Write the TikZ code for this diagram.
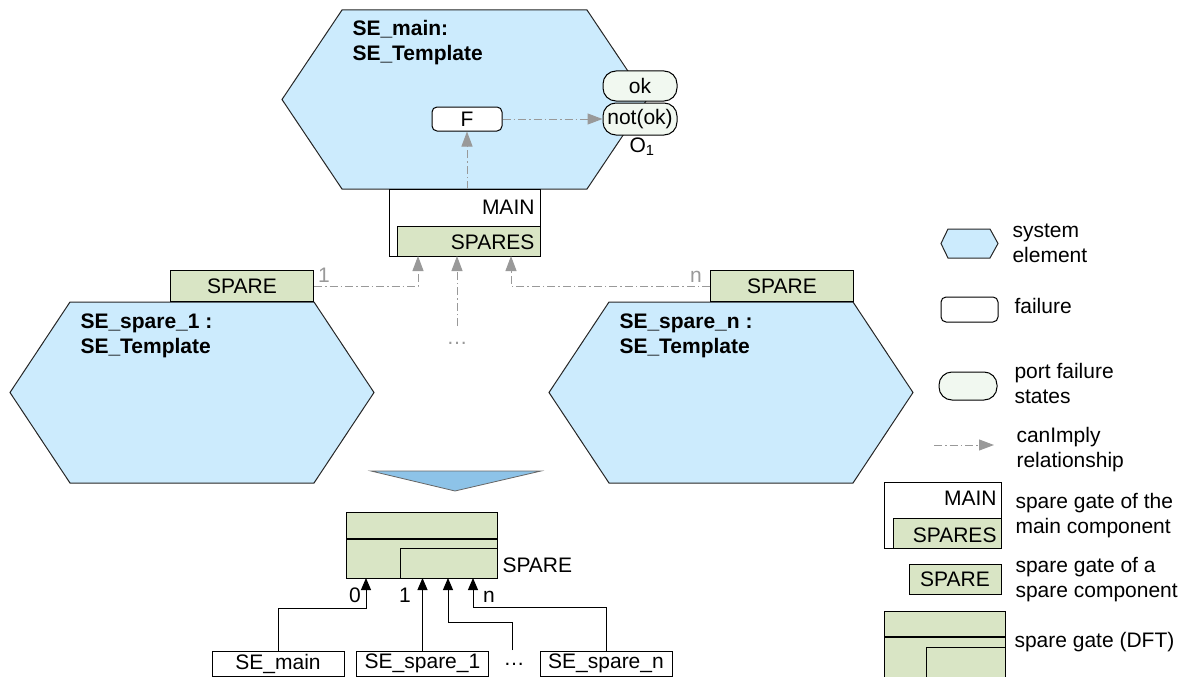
\documentclass[tikz,border=0pt]{standalone}
\usepackage{fontspec}
\setmainfont{Liberation Sans}
\usetikzlibrary{arrows.meta}
\definecolor{seblue}{HTML}{CCEBFD}
\definecolor{gategreen}{HTML}{D9E5C5}
\definecolor{portgreen}{HTML}{F1F8F0}
\definecolor{arrowblue}{HTML}{8DC3E8}
\definecolor{implygray}{HTML}{999999}
\begin{document}
\begin{tikzpicture}[x=1pt,y=-1pt,line width=1pt,
  font=\fontsize{21}{25}\selectfont,
  hexa/.style={draw=black!85,fill=seblue,line join=miter},
  sename/.style={font=\fontsize{21}{25}\selectfont\bfseries,align=left,anchor=north west,inner sep=0pt},
  failbox/.style={draw,fill=white,rounded corners=5pt,minimum width=70pt,minimum height=24pt,inner sep=0pt},
  portbox/.style={draw,fill=portgreen,rounded corners=13pt,minimum width=74pt,minimum height=30pt,inner sep=0pt},
  gatebox/.style={draw,fill=gategreen,inner sep=0pt},
  elembox/.style={draw,fill=white,minimum width=132pt,minimum height=25pt,inner sep=0pt},
  implies/.style={implygray,dash pattern=on 8pt off 3pt on 1.5pt off 3pt,-{Triangle[length=15pt,width=11pt]}},
  feeds/.style={black,-{Triangle[length=12pt,width=10pt]}},
  plain/.style={inner sep=0pt}]
  \useasboundingbox (0,0) rectangle (1189,677);

  % system elements
  \draw[hexa] (342,10) -- (587,10) -- (647,99.5) -- (587,189) -- (342,189) -- (282,99.5) -- cycle;
  \draw[hexa] (70,302) -- (314,302) -- (374,392.5) -- (314,483) -- (70,483) -- (10,392.5) -- cycle;
  \draw[hexa] (609,302) -- (853,302) -- (913,392.5) -- (853,483) -- (609,483) -- (549,392.5) -- cycle;
  \node[sename] (mainname) at (352,20) {SE\_main:\\SE\_Template};
  \node[sename] (spare1name) at (80,313) {SE\_spare\_1 :\\SE\_Template};
  \node[sename] (sparenname) at (619,313) {SE\_spare\_n :\\SE\_Template};

  % failure and port states
  \node[failbox] (F) at (467,119) {F};
  \node[portbox] (ok) at (640,86) {ok};
  \node[portbox,minimum height=32pt] (notok) at (640,119) {not(ok)};
  \node[plain,anchor=base] (o1) at (642,152) {O\textsubscript{1}};

  % spare gate of the main component
  \node[draw,fill=white,minimum width=151pt,minimum height=67pt,inner sep=0pt,anchor=north west] (maingate) at (389,189) {};
  \node[gatebox,minimum width=143pt,minimum height=30pt,anchor=south east] (spares) at (maingate.south east) {};
  \node[plain,anchor=base east] (mainlbl) at (535,214) {MAIN};
  \node[plain,anchor=base east] (spareslbl) at (535,249) {SPARES};

  % spare gates of the spare components
  \node[gatebox,minimum width=143pt,minimum height=31pt,anchor=south east] (spare1) at (314,302) {SPARE};
  \node[gatebox,minimum width=143pt,minimum height=31pt,anchor=south west] (sparen) at (710,302) {SPARE};

  % canImply
  \coordinate (in1) at (418,256);
  \coordinate (in2) at (457,256);
  \coordinate (inn) at (511,256);
  \coordinate (dotsup) at (457,326);
  \draw[implies] (F.south |- maingate.north) -- (F.south);
  \draw[implies] (F.east) -- (notok.west);
  \draw[implies] (spare1.east) -| (in1);
  \draw[implies] (dotsup) -- (in2);
  \draw[implies] (sparen.west) -| (inn);
  \node[implygray,plain,anchor=base] (lbl1) at (324,282) {1};
  \node[implygray,plain,anchor=base] (lbln) at (696,282) {n};
  \node[implygray,plain] (dotsmid) at (457,343) {\ldots};

  % transformation
  \draw[draw=black!60,fill=arrowblue,line width=0.8pt] (371,471) -- (541,471) -- (455,491) -- cycle;

  % spare gate (DFT)
  \node[gatebox,minimum width=151pt,minimum height=66pt,anchor=north west] (dftgate) at (346,512) {};
  \draw[line width=2pt] (346,538.5) -- (497,538.5);
  \draw (400,578) -- (400,548) -- (497,548);
  \node[plain,anchor=base west] (dftlbl) at (502,572) {SPARE};

  \node[elembox] (semain) at (278,663.5) {SE\_main};
  \node[elembox] (sesp1) at (422.5,663.5) {SE\_spare\_1};
  \node[plain] (bdots) at (514,664) {\ldots};
  \node[elembox] (sespn) at (606,663.5) {SE\_spare\_n};
  \coordinate (g0) at (366,578);
  \coordinate (g1) at (422.5,578);
  \coordinate (g2) at (448,578);
  \coordinate (gn) at (473,578);
  \coordinate (dotstop) at (512,650);
  \draw[feeds] (semain.north) |- (366,608) -- (g0);
  \draw[feeds] (sesp1.north) -- (g1);
  \draw[feeds] (dotstop) |- (448,622) -- (g2);
  \draw[feeds] (sespn.north) |- (473,607) -- (gn);
  \node[plain,anchor=base] (lbl0g) at (355,602) {0};
  \node[plain,anchor=base] (lbl1g) at (405,602) {1};
  \node[plain,anchor=base] (lblng) at (489,602) {n};

  % legend
  \draw[hexa] (948,229) -- (990,229) -- (998,243.5) -- (990,258) -- (948,258) -- (941,243.5) -- cycle;
  \node[plain,anchor=base west,align=left] (lgsys) at (1012,262) {system\\element};
  \node[failbox,minimum width=57pt,minimum height=25pt] (lgfail) at (969.5,309.5) {};
  \node[plain,anchor=base west] (lgfailt) at (1014,313) {failure};
  \node[portbox,minimum width=58pt,minimum height=28pt] (lgport) at (968,386) {};
  \node[plain,anchor=base west,align=left] (lgportt) at (1014,403) {port failure\\states};
  \coordinate (lgimpa) at (934,445);
  \coordinate (lgimpb) at (994,445);
  \draw[implies] (lgimpa) -- (lgimpb);
  \node[plain,anchor=base west,align=left] (lgimpt) at (1016,467) {canImply\\relationship};
  \node[draw,fill=white,minimum width=117pt,minimum height=66pt,inner sep=0pt,anchor=north west] (lgmain) at (884,482) {};
  \node[gatebox,minimum width=108pt,minimum height=30pt,anchor=south east] (lgspares) at (lgmain.south east) {};
  \node[plain,anchor=base east] (lgmainl) at (997,505) {MAIN};
  \node[plain,anchor=base east] (lgsparesl) at (997,542) {SPARES};
  \node[plain,anchor=base west,align=left] (lgmaint) at (1015,533) {spare gate of the\\main component};
  \node[gatebox,minimum width=92pt,minimum height=30pt] (lgspare) at (955,579) {SPARE};
  \node[plain,anchor=base west,align=left] (lgsparet) at (1015,597) {spare gate of a\\spare component};
  \node[gatebox,minimum width=121pt,minimum height=90pt,anchor=north west] (lgdft) at (884,611) {};
  \draw[line width=2pt] (884,637) -- (1005,637);
  \draw (926,701) -- (926,647) -- (1005,647);
  \node[plain,anchor=base west] (lgdftt) at (1014,647) {spare gate (DFT)};
\end{tikzpicture}
\end{document}
